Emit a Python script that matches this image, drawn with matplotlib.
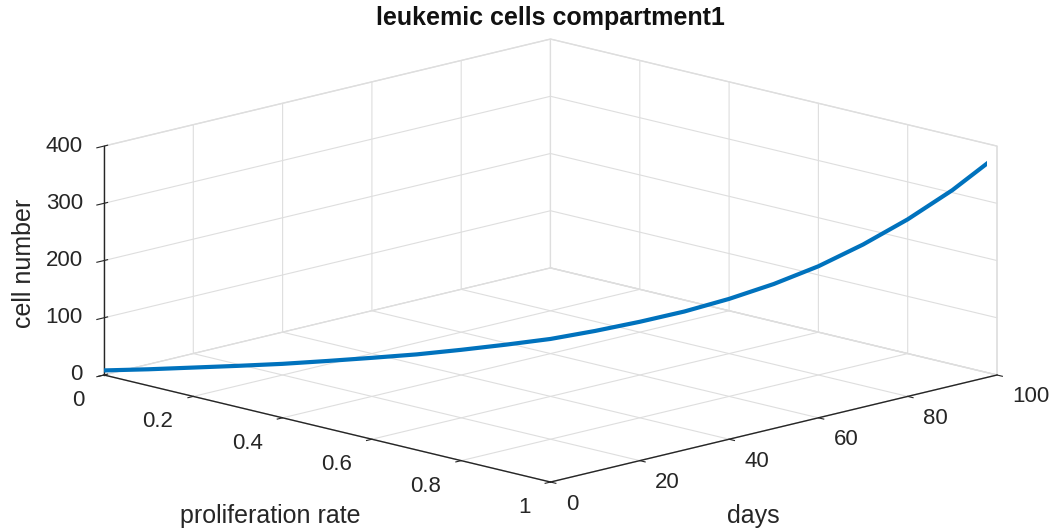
import matplotlib
matplotlib.use("Agg")
import matplotlib.pyplot as plt
from mpl_toolkits.mplot3d import proj3d
import numpy as np

# ---- data ----
days = [0, 5, 10, 15, 20, 25, 30, 35, 40, 45, 50,
        55, 60, 65, 70, 75, 80, 85, 90, 95, 100]
prolif = [0.00, 0.05, 0.10, 0.15, 0.20, 0.25, 0.30, 0.35, 0.40, 0.45, 0.50,
          0.55, 0.60, 0.65, 0.70, 0.75, 0.80, 0.85, 0.90, 0.95, 1.00]
cells = [8, 10, 13, 16, 19.5, 24.5, 30, 36, 44, 53, 63,
         77, 93, 111, 133, 159, 190, 228, 272, 323, 383]

prolif_ticks = [0, 0.2, 0.4, 0.6, 0.8, 1]
prolif_ticklabels = ["0", "0.2", "0.4", "0.6", "0.8", "1"]
days_ticks = [0, 20, 40, 60, 80, 100]
cell_ticks = [0, 100, 200, 300, 400]

title = "leukemic cells compartment1"
xlabel = "proliferation rate"
ylabel = "days"
zlabel = "cell number"

# ---- style ----
plt.rcParams["font.family"] = ["Liberation Sans", "DejaVu Sans"]
plt.rcParams["grid.color"] = "#dedede"
plt.rcParams["grid.linewidth"] = 0.8
try:
    plt.rcParams["axes3d.automargin"] = False
except KeyError:
    pass

TXT = "#262626"
W, H = 1060, 529
fig = plt.figure(figsize=(W / 100, H / 100), dpi=100)
side = 900
ax = fig.add_axes([(W / 2 - side / 2) / W, (H / 2 - side / 2) / H, side / W, side / H],
                  projection="3d", proj_type="ortho")
ax.view_init(elev=13.87, azim=-45)
ax.set_box_aspect((1, 1, 0.3734))

ax.plot(prolif, days, cells, color="#0072BD", lw=3,
        solid_capstyle="butt", solid_joinstyle="round")

ax.set_xlim(0, 1)
ax.set_ylim(0, 100)
ax.set_zlim(0, 400)
ax.set_xticks(prolif_ticks)
ax.set_xticklabels(prolif_ticklabels)
ax.set_yticks(days_ticks)
ax.set_zticks(cell_ticks)

ax.zaxis.set_ticks_position("lower")

for a in (ax.xaxis, ax.yaxis, ax.zaxis):
    a.set_pane_color((1, 1, 1, 1))
    a.pane.set_edgecolor("#dedede")
    a.line.set_color(TXT)
    a.line.set_linewidth(1.0)
    a._axinfo["grid"]["color"] = "#dedede"
    a._axinfo["grid"]["linewidth"] = 0.8
    a._axinfo["tick"]["color"] = TXT
    a.set_tick_params(labelsize=16, colors=TXT)

for a in (ax.xaxis, ax.yaxis):
    a._axinfo["tick"]["inward_factor"] = 0.15
    a._axinfo["tick"]["outward_factor"] = 0.0

ax.xaxis.set_tick_params(pad=7)
ax.yaxis.set_tick_params(pad=3.5)
ax.zaxis.set_tick_params(pad=0)
for t in ax.xaxis.get_major_ticks():
    t.label1.set_ha("right")
    t.label1.set_va("top")
for t in ax.yaxis.get_major_ticks():
    t.label1.set_ha("left")
    t.label1.set_va("top")
for t in ax.zaxis.get_major_ticks():
    t.label1.set_ha("right")
    t.label1.set_va("center")

# ---- layout: place the projected box where it sits in the reference ----
fig.canvas.draw()


def disp(x, y, z):
    xs, ys, _ = proj3d.proj_transform(x, y, z, ax.get_proj())
    return ax.transData.transform((xs, ys))


pL = disp(0, 0, 0)
pR = disp(1, 100, 0)
tL = np.array([104.0, H - 375.0])
tR = np.array([997.0, H - 377.0])
s = (tR[0] - tL[0]) / (pR[0] - pL[0])
pos = ax.get_position()
x0, y0 = pos.x0 * W, pos.y0 * H
wpx, hpx = pos.width * W, pos.height * H
nx0 = tL[0] - (pL[0] - x0) * s
ny0 = tL[1] - (pL[1] - y0) * s
ax.set_position([nx0 / W, ny0 / H, wpx * s / W, hpx * s / H])

# title / axis labels as figure text at the reference places
fig.text(550 / W, 1 - 18 / H, title, ha="center", va="center",
         fontsize=18, fontweight="bold", color="#111111")
fig.text(270 / W, 1 - 516 / H, xlabel, ha="center", va="center",
         fontsize=18, color=TXT)
fig.text(753 / W, 1 - 516 / H, ylabel, ha="center", va="center",
         fontsize=18, color=TXT)
fig.text(24 / W, 1 - 263 / H, zlabel, ha="center", va="center",
         rotation=90, fontsize=18, color=TXT)

fig.savefig("out.png", dpi=100)
